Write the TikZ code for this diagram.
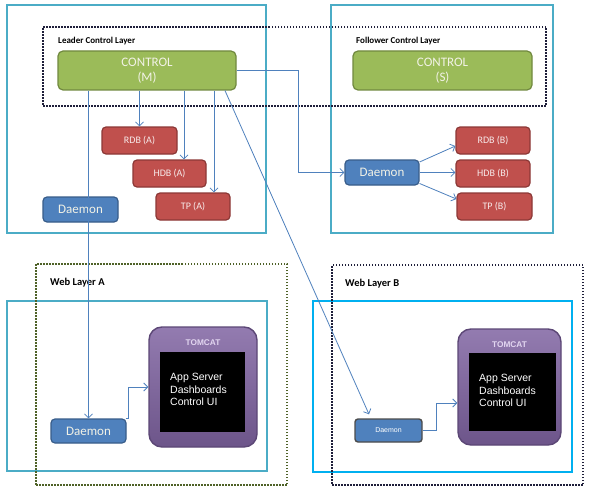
\documentclass[tikz,border=0pt]{standalone}
\usepackage{fontspec}
\setmainfont{Carlito}
\newfontfamily\arialf{Liberation Sans}
\usetikzlibrary{arrows.meta,calc}
\definecolor{cyanline}{HTML}{4BACC6}
\definecolor{brightcyan}{HTML}{00B0F0}
\definecolor{greenfill}{HTML}{9BBB59}
\definecolor{greendraw}{HTML}{71893F}
\definecolor{redfill}{HTML}{C0504D}
\definecolor{reddraw}{HTML}{8C3836}
\definecolor{bluefill}{HTML}{4F81BD}
\definecolor{bluedraw}{HTML}{385D8A}
\definecolor{purplefill}{HTML}{8064A2}
\definecolor{purpledraw}{HTML}{5C4776}
\definecolor{connline}{HTML}{4F81BD}
\definecolor{dotnavy}{HTML}{1F1F3A}
\definecolor{dotolive}{HTML}{4F6228}
\definecolor{lighttext}{HTML}{F2F2E6}
\definecolor{tomcattext}{HTML}{E2D6F0}
\begin{document}
\begin{tikzpicture}[x=1pt,y=-1pt,
  container/.style={draw=cyanline, line width=1.6pt, inner sep=0pt},
  dotbox/.style={draw=dotnavy, line width=2pt, dash pattern=on 1.5pt off 1.5pt, inner sep=0pt},
  layerlabel/.style={font=\bfseries\fontsize{9}{10}\selectfont, anchor=west, inner sep=0pt},
  weblabel/.style={font=\bfseries\fontsize{10.5}{12}\selectfont, anchor=west, inner sep=0pt},
  ctrlbox/.style={fill=greenfill, draw=greendraw, line width=1.2pt, rounded corners=5pt, inner sep=0pt, align=center, text=lighttext, font=\fontsize{13}{16}\selectfont},
  redbox/.style={fill=redfill, draw=reddraw, line width=1.2pt, rounded corners=4pt, inner sep=0pt, text=white!88!redfill, font=\fontsize{10}{12}\selectfont},
  bluebox/.style={fill=bluefill, draw=bluedraw, line width=1.2pt, rounded corners=4pt, inner sep=0pt, text=lighttext, font=\fontsize{13}{15}\selectfont},
  smallblue/.style={fill=bluefill, draw=black!70, line width=1.4pt, rounded corners=3pt, inner sep=0pt, text=white, font=\arialf\fontsize{7}{8}\selectfont},
  tomcat/.style={top color=purplefill!85!white, bottom color=purplefill!85!black, draw=purpledraw, line width=1.4pt, rounded corners=13pt, inner sep=0pt},
  blackin/.style={fill=black, draw=none, inner sep=0pt},
  tomcatlabel/.style={font=\arialf\bfseries\fontsize{8.3}{9}\selectfont, text=tomcattext, inner sep=0pt},
  apptext/.style={font=\arialf\fontsize{10.5}{12.5}\selectfont, text=white, align=left, anchor=north west, inner sep=0pt},
  conn/.style={draw=connline, line width=0.8pt, -{Straight Barb[length=4pt,width=8pt]}}
]
\path[use as bounding box, fill=white] (0,0) rectangle (592,495);

% containers
\node[container, minimum width=259pt, minimum height=228pt] (leaderbox) at (136.5,119) {};
\node[container, minimum width=222pt, minimum height=228pt] (followerbox) at (442,119) {};
\node[dotbox, minimum width=503pt, minimum height=79pt] (ctrllayer) at (294.5,66.5) {};
\node[layerlabel] (leaderlbl) at (58,41) {Leader Control Layer};
\node[layerlabel] (followerlbl) at (356,41) {Follower Control Layer};

\node[container, minimum width=260pt, minimum height=170pt] (webAbox) at (137,386) {};
\node[dotbox, draw=dotolive, minimum width=251pt, minimum height=221pt] (webAlayer) at (161.5,374.5) {};
\node[weblabel] (webAlbl) at (50,283) {Web Layer A};

\node[container, draw=brightcyan, line width=2pt, minimum width=259pt, minimum height=171pt] (webBbox) at (442.5,386.5) {};
\node[dotbox, minimum width=251pt, minimum height=220pt] (webBlayer) at (457.5,375) {};
\node[weblabel] (webBlbl) at (345,284) {Web Layer B};

% control layer
\node[ctrlbox, minimum width=178pt, minimum height=39pt] (ctrlM) at (147,70.5) {\raisebox{-2pt}{\shortstack{CONTROL\\[2pt](M)}}};
\node[ctrlbox, minimum width=179pt, minimum height=39pt] (ctrlS) at (442.5,70.5) {\raisebox{-2pt}{\shortstack{CONTROL\\[2pt](S)}}};

% leader side
\node[redbox, minimum width=75pt, minimum height=27pt] (rdbA) at (139.5,140.5) {RDB (A)};
\node[redbox, minimum width=73pt, minimum height=27pt] (hdbA) at (169.5,173.5) {HDB (A)};
\node[redbox, minimum width=74pt, minimum height=27pt] (tpA) at (193,206.5) {TP (A)};
\node[bluebox, minimum width=75pt, minimum height=25pt] (daemonA) at (80.5,209.5) {Daemon};

% follower side
\node[bluebox, minimum width=74pt, minimum height=25pt] (daemonB) at (382,172.5) {Daemon};
\node[redbox, minimum width=74pt, minimum height=27pt] (rdbB) at (493,140.5) {RDB (B)};
\node[redbox, minimum width=74pt, minimum height=27pt] (hdbB) at (493,173.5) {HDB (B)};
\node[redbox, minimum width=75pt, minimum height=27pt] (tpB) at (494.5,206.5) {TP (B)};

% web layer A
\node[bluebox, minimum width=75pt, minimum height=24pt] (daemonWA) at (88.5,431) {Daemon};
\node[tomcat, minimum width=108pt, minimum height=120pt] (tomcatA) at (203,387) {};
\node[blackin, minimum width=85pt, minimum height=80pt] (tomcatAin) at (202.5,392) {};
\node[tomcatlabel] (tomcatAlbl) at (203,343) {TOMCAT};
\node[apptext] (appA) at (170,373) {App Server\\Dashboards\\Control UI};

% web layer B
\node[smallblue, minimum width=67pt, minimum height=23pt] (daemonWB) at (388.5,430.5) {Daemon};
\node[tomcat, minimum width=103pt, minimum height=116pt] (tomcatB) at (509.5,387) {};
\node[blackin, minimum width=87pt, minimum height=78pt] (tomcatBin) at (512.5,392) {};
\node[tomcatlabel] (tomcatBlbl) at (509.5,345) {TOMCAT};
\node[apptext] (appB) at (479,374) {App Server\\Dashboards\\Control UI};

% connectors
\draw[conn] (rdbA.north |- ctrlM.south) -- (rdbA.north);
\draw[conn] ([xshift=14.5pt]hdbA.north |- ctrlM.south) -- ([xshift=14.5pt]hdbA.north);
\draw[conn] ([xshift=21pt]tpA.north |- ctrlM.south) -- ([xshift=21pt]tpA.north);
\draw[conn] (daemonWA.north |- ctrlM.south) -- (daemonWA.north);
\draw[conn] (ctrlM.east) -- ++(62,0) |- (daemonB.west);
\draw[conn] ([xshift=78pt]ctrlM.south) -- ([xshift=-19.5pt,yshift=4pt]daemonWB.north);
\draw[conn] ([yshift=10.5pt]daemonB.east) -- ([yshift=-5.5pt]rdbB.west);
\draw[conn] (daemonB.east) -- (daemonB.east -| hdbB.west);
\draw[conn] ([yshift=-11pt]daemonB.east) -- ([yshift=7.5pt]tpB.west);
\draw[conn] ([xshift=-1pt]daemonWA.north east) -- ++(3,0) |- (tomcatA.west);
\draw[conn] (daemonWB.east) -- ++(14,0) |- ([yshift=-16pt]tomcatB.west);
\end{tikzpicture}
\end{document}
